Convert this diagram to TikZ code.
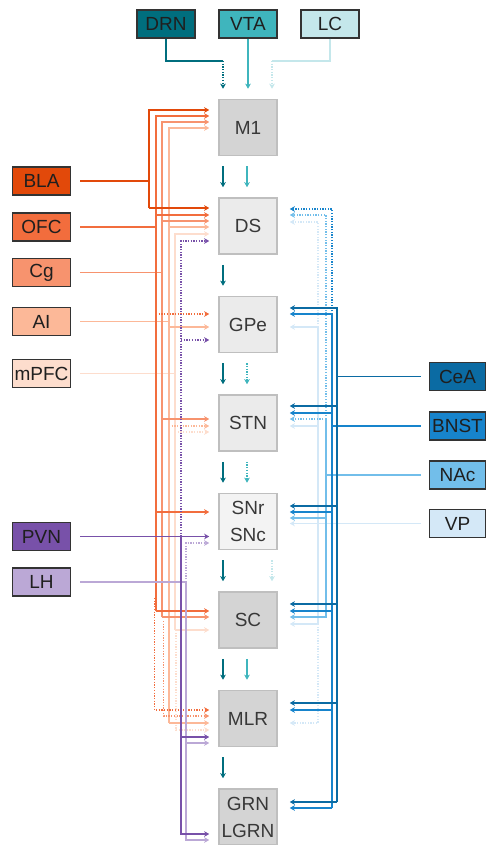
\documentclass[tikz,border=0pt]{standalone}
\usepackage{fontspec}
\setmainfont{Liberation Sans}
\usetikzlibrary{arrows.meta}
\definecolor{drn}{HTML}{006E7E}
\definecolor{vta}{HTML}{3FB5BD}
\definecolor{lc}{HTML}{C4E7EB}
\definecolor{bla}{HTML}{E2490A}
\definecolor{ofc}{HTML}{F26D3D}
\definecolor{cg}{HTML}{F7936E}
\definecolor{ai}{HTML}{FCB898}
\definecolor{mp}{HTML}{FDDDCD}
\definecolor{pvn}{HTML}{7851A9}
\definecolor{lh}{HTML}{BBA8D6}
\definecolor{cea}{HTML}{0B6BA3}
\definecolor{bnst}{HTML}{1784CC}
\definecolor{nac}{HTML}{72BEEA}
\definecolor{vp}{HTML}{D4E8F7}
\definecolor{gdark}{HTML}{D4D4D4}
\definecolor{glight}{HTML}{EBEBEB}
\definecolor{gpale}{HTML}{F3F3F3}
\tikzstyle{area}=[draw=black!25,line width=1.5pt,minimum width=58pt,minimum height=56pt,inner sep=0pt,text=black!78,align=center,font=\fontsize{19}{27}\selectfont]
\tikzstyle{src}=[draw=black!80,line width=1.4pt,minimum width=58pt,minimum height=28pt,inner sep=0pt,text=black!88,font=\fontsize{19}{22}\selectfont]
\tikzstyle{wire}=[line width=1.4pt]
\tikzstyle{proj}=[line width=1.4pt,-{Stealth[length=5pt,width=5.5pt,inset=1.3pt]}]
\tikzstyle{dots}=[dash pattern=on 1.3pt off 1.4pt]
\tikzstyle{gap}=[shorten <=10pt,shorten >=10pt]
\tikzstyle{lft}=[shorten >=9pt]
\tikzstyle{rgt}=[shorten >=12pt]

\begin{document}
\begin{tikzpicture}[x=1pt,y=-1pt]
\useasboundingbox (0,0) rectangle (487,845);

% central column
\foreach \pos/\name/\col/\txt in {{(248,127.5)/M1/gdark/M1},{(248,226)/DS/glight/DS},{(248,324.5)/GPe/glight/GPe},{(248,423)/STN/glight/STN},{(248,521.5)/SN/gpale/SNr\\SNc},{(248,620)/SC/gdark/SC},{(248,718.5)/MLR/gdark/MLR},{(248,817)/GRN/gdark/GRN\\LGRN}}
  \node[area,fill=\col] (\name) at \pos {\txt};

% sources
\foreach \pos/\name/\col in {{(166,24)/DRN/drn},{(248,24)/VTA/vta},{(330,24)/LC/lc}}
  \node[src,fill=\col] (\name) at \pos {\name};
\foreach \pos/\name/\col in {{(41.5,181)/BLA/bla},{(41.5,227)/OFC/ofc},{(41.5,272.5)/Cg/cg},{(41.5,321.5)/AI/ai},{(41.5,373.5)/mPFC/mp},{(41.5,536.5)/PVN/pvn},{(41.5,582)/LH/lh}}
  \node[src,fill=\col] (\name) at \pos {\name};
\foreach \pos/\name/\col in {{(457.5,376.5)/CeA/cea},{(457.5,426)/BNST/bnst},{(457.5,475)/NAc/nac},{(457.5,523.5)/VP/vp}}
  \node[src,fill=\col,minimum width=56pt] (\name) at \pos {\name};

% monoamine inputs
\draw[wire,drn] (DRN.south) |- (223,61);
\draw[proj,drn,dots,shorten >=10pt] (223,61) -- ([xshift=-25pt]M1.north);
\draw[proj,vta,shorten >=10pt] (VTA.south) -- (M1.north);
\draw[wire,lc] (LC.south) |- (272,61);
\draw[proj,lc,dots,shorten >=10pt] (272,61) -- ([xshift=24pt]M1.north);

\foreach \a/\b in {M1/DS,DS/GPe,GPe/STN,STN/SN,SN/SC,SC/MLR,MLR/GRN}
  \draw[proj,drn,gap] ([xshift=-25pt]\a.south) -- ([xshift=-25pt]\b.north);
\foreach \a/\b in {M1/DS,SC/MLR}
  \draw[proj,vta,gap] ([xshift=-1pt]\a.south) -- ([xshift=-1pt]\b.north);
\foreach \a/\b in {GPe/STN,STN/SN}
  \draw[proj,vta,dots,gap] ([xshift=-1pt]\a.south) -- ([xshift=-1pt]\b.north);
\draw[proj,lc,dots,gap] ([xshift=24pt]SN.south) -- ([xshift=24pt]SC.north);

% left buses
\def\xbla{149} \def\xofc{156} \def\xcg{162} \def\xai{169} \def\xmp{175} \def\xpvn{181} \def\xlh{186}

\draw[wire,mp] ([xshift=9pt]mPFC.east) -- (mPFC.east -| \xmp,0);
\draw[proj,mp,lft] (\xmp,630) |- (DS.west |- 0,234);
\draw[proj,mp,lft] (\xmp,630) -- (SC.west |- 0,630);
\draw[proj,mp,dots,lft] (\xmp,432) -- (STN.west |- 0,432);
\draw[proj,mp,dots,lft] (176,630) |- (MLR.west |- 0,730);

\draw[wire,ai] ([xshift=9pt]AI.east) -- (AI.east -| \xai,0);
\draw[proj,ai,lft] (\xai,723) |- (M1.west |- 0,128);
\foreach \y/\t in {227/DS,327/GPe,723/MLR}
  \draw[proj,ai,lft] (\xai,\y) -- (\t.west |- 0,\y);
\draw[proj,ai,dots,lft] (\xai,426) -- (STN.west |- 0,426);

\draw[wire,cg] ([xshift=9pt]Cg.east) -- (Cg.east -| \xcg,0);
\draw[proj,cg,lft] (\xcg,617) |- (M1.west |- 0,122);
\foreach \y/\t in {221/DS,419/STN,617/SC}
  \draw[proj,cg,lft] (\xcg,\y) -- (\t.west |- 0,\y);
\draw[proj,cg,dots,lft] (163.5,621) |- (MLR.west |- 0,716);

\draw[wire,ofc] ([xshift=9pt]OFC.east) -- (OFC.east -| \xofc,0);
\draw[proj,ofc,lft] (\xofc,611) |- (M1.west |- 0,116);
\foreach \y/\t in {215/DS,512/SN,611/SC}
  \draw[proj,ofc,lft] (\xofc,\y) -- (\t.west |- 0,\y);
\draw[proj,ofc,dots,lft] (\xofc,314) -- (GPe.west |- 0,314);
\draw[proj,ofc,dots,lft] (154.5,598) |- (MLR.west |- 0,710);

\draw[wire,bla] ([xshift=9pt]BLA.east) -- (BLA.east -| \xbla,0);
\draw[proj,bla,lft] (\xbla,208) |- (M1.west |- 0,110);
\draw[proj,bla,lft] (\xbla,208) -- (DS.west |- 0,208);

\draw[wire,lh] ([xshift=9pt]LH.east) -- (LH.east -| \xlh,0);
\draw[proj,lh,dots,lft] (LH.east -| \xlh,0) |- (SN.west |- 0,543);
\draw[proj,lh,lft] (LH.east -| \xlh,0) |- (GRN.west |- 0,840);
\draw[proj,lh,lft] (\xlh,743) -- (MLR.west |- 0,743);

\draw[proj,pvn,lft] ([xshift=9pt]PVN.east) -- (SN.west |- PVN.east);
\draw[proj,pvn,dots,lft] (PVN.east -| \xpvn,0) |- (DS.west |- 0,241);
\draw[proj,pvn,dots,lft] (\xpvn,340) -- (GPe.west |- 0,340);
\draw[proj,pvn,lft] (PVN.east -| \xpvn,0) |- (GRN.west |- 0,834);
\draw[proj,pvn,lft] (\xpvn,737) -- (MLR.west |- 0,737);

% right buses
\def\xcea{337} \def\xbn{332} \def\xnac{326} \def\xvp{318}

\draw[proj,vp,rgt] ([xshift=-8pt]VP.west) -- (SN.east |- VP.west);
\draw[proj,vp,dots,rgt] (\xvp,327) |- (DS.east |- 0,222);
\draw[proj,vp,rgt] (\xvp,624) |- (GPe.east |- 0,327);
\foreach \y/\t in {426/STN,624/SC}
  \draw[proj,vp,rgt] (\xvp,\y) -- (\t.east |- 0,\y);
\draw[proj,vp,dots,rgt] (\xvp,624) |- (MLR.east |- 0,723);

\draw[wire,nac] ([xshift=-8pt]NAc.west) -- (NAc.west -| \xnac,0);
\draw[proj,nac,dots,rgt] (\xnac,419) |- (DS.east |- 0,215);
\draw[proj,nac,dots,rgt] (\xnac,419) -- (STN.east |- 0,419);
\draw[proj,nac,rgt] (\xnac,419) |- (SC.east |- 0,617);
\draw[proj,nac,rgt] (\xnac,518) -- (SN.east |- 0,518);

\draw[wire,bnst] ([xshift=-8pt]BNST.west) -- (BNST.west -| \xbn,0);
\draw[proj,bnst,dots,rgt] (\xbn,314) |- (DS.east |- 0,209);
\draw[proj,bnst,rgt] (\xbn,808) |- (GPe.east |- 0,314);
\foreach \y/\t in {413/STN,512/SN,611/SC,710/MLR,808/GRN}
  \draw[proj,bnst,rgt] (\xbn,\y) -- (\t.east |- 0,\y);

\draw[wire,cea] ([xshift=-8pt]CeA.west) -- (CeA.west -| \xcea,0);
\draw[proj,cea,rgt] (\xcea,802) |- (GPe.east |- 0,308);
\foreach \y/\t in {406/STN,506/SN,604/SC,703/MLR,802/GRN}
  \draw[proj,cea,rgt] (\xcea,\y) -- (\t.east |- 0,\y);

\end{tikzpicture}
\end{document}
